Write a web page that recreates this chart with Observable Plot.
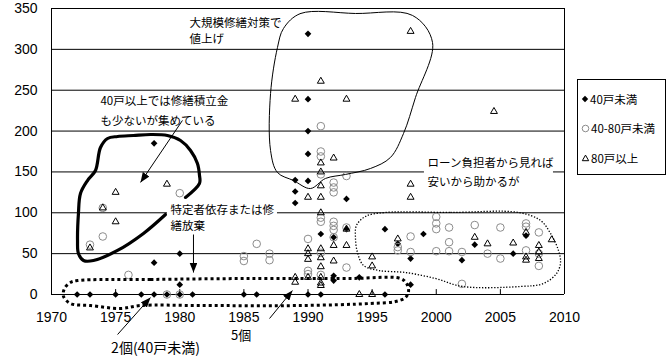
<!DOCTYPE html>
<html><head><meta charset="utf-8">
<script src="https://cdn.jsdelivr.net/npm/d3@7"></script>
<script src="https://cdn.jsdelivr.net/npm/@observablehq/plot@0.6"></script>
<style>
body{margin:0;background:#fff;}
#wrap{position:relative;width:670px;height:360px;background:#fff;}
#legend{position:absolute;left:577px;top:79px;width:87px;height:94px;border:1px solid #000;background:#fff;font-family:"Noto Sans CJK JP",sans-serif;font-size:11.5px;color:#000;}
.item{position:absolute;left:3px;height:16px;display:flex;align-items:center;white-space:nowrap;}
.item svg{margin-right:1px;}
</style></head>
<body><div id="wrap"><div id="legend"></div></div>
<script>
// ---- data: [year, value] ----
const seriesNames = ["40戸未満", "40-80戸未満", "80戸以上"];
const under40 = [
 [1972,0],[1973,0],[1975,0],[1977,0],[1978,0],[1979,0],[1980,0],[1981,0],
 [1985,0],[1986,0],[1990,0],[1991,0],[1996,0],
 [1978,185],[1978,39],[1980,50],[1980,12],
 [1989,140],[1989,126],[1989,112],
 [1990,319],[1990,239],[1990,200],[1990,172],[1990,139],
 [1991,74],[1992,70],[1992,23],[1992,17],[1993,117],[1993,80],[1994,21],
 [1996,80],[1997,62],[1998,44],[1998,12],[1999,74],[2002,42],[2003,61],[2006,50],[2007,72]
];
const from40to80 = [
 [1973,61],[1974,71],[1974,106],[1976,24],[1979,0],[1980,0],[1980,124],
 [1985,47],[1985,41],[1986,62],[1987,50],[1987,42],
 [1990,68],[1990,29],[1990,25],
 [1991,206],[1991,175],[1991,169],[1991,147],[1991,94],[1991,89],[1991,51],[1991,24],
 [1992,137],[1992,131],[1992,125],[1992,89],[1992,84],[1992,79],[1992,70],
 [1993,145],[1993,82],[1993,33],
 [1997,58],[1997,54],[1998,71],[1998,52],
 [2000,95],[2000,87],[2000,80],[2000,53],[2001,82],[2001,64],[2001,53],[2002,52],[2002,13],
 [2003,85],[2004,50],[2005,82],[2005,44],[2007,87],[2007,83],[2007,54],[2008,76],[2008,50],[2008,35]
];
const over80 = [
 [1973,57],[1974,106],[1975,125],[1975,89],[1979,135],
 [1989,239],[1989,21],[1989,15],
 [1990,119],[1990,56],[1990,50],[1990,43],[1990,21],
 [1991,261],[1991,161],[1991,150],[1991,133],[1991,119],[1991,100],[1991,56],[1991,45],[1991,34],[1991,21],[1991,14],[1991,11],
 [1992,167],[1992,60],[1992,41],
 [1993,239],[1993,80],[1993,60],
 [1994,0],[1995,0],[1995,46],[1995,35],
 [1997,68],[1998,322],[1998,135],[1998,119],
 [2003,70],[2004,62],[2004.5,224],[2006,63],[2007,76],[2007,46],[2007,42],[2008,60],[2008,52],[2008,44],[2009,67]
];
const yTicks = [0,50,100,150,200,250,300,350];
const xTicks = [1970,1975,1980,1985,1990,1995,2000,2005,2010];

// ---- annotations (data space) ----
const loop1990 = [[1988.09,325.6],[1989.42,343.9],[1993.7,343.9],[1998.15,341.5],[1999.71,308.4],[1998.38,241.1],[1997.45,197.1],[1996.43,167.7],[1994.87,154.2],[1992.92,146.9],[1991.36,142],[1990.19,129.7],[1988.87,139.5],[1987.62,149.3],[1987.08,176.3],[1987.08,246],[1987.62,302.3]];
const loopLeft = [[1978.89,97.9],[1977.17,74.7],[1975.15,53.9],[1973.27,41.6],[1972.5,41.6],[1972.1,50.2],[1972.03,66.1],[1972.1,99.1],[1972.26,123.6],[1972.81,139.5],[1973.43,151.8],[1973.82,179.9],[1974.37,190.9],[1975.15,193.4],[1976.39,194.6],[1977.72,195.8],[1979.04,194.6],[1980.06,188.5],[1980.84,176.3],[1981.38,160.3],[1981.54,145.7],[1981.54,135.9],[1980.45,118.7]];
const loopBottom = [[1972.03,17.1],[1977.72,18.4],[1985.52,19.6],[1993.31,19.6],[1997.21,19.6],[1997.68,13.5],[1997.84,3.7],[1997.6,-3.7],[1996.82,-8.6],[1994.87,-11],[1989.42,-13.5],[1981.62,-13.5],[1976.94,-13.5],[1975.38,-17.1],[1973.04,-13.5],[1971.48,-11],[1970.94,-2.4],[1971.01,7.3],[1971.48,14.7]];
const loopRight = [[1996.04,100.4],[2001.11,100.4],[2006.41,100.4],[2008.13,90.6],[2008.91,74.7],[2009.53,53.9],[2009.69,39.2],[2009.38,25.7],[2008.36,13.5],[2006.57,9.8],[2002.05,9.8],[1999.94,19.6],[1997.6,26.9],[1995.5,29.4],[1994.33,35.5],[1993.86,51.4],[1993.7,69.8],[1993.78,84.5],[1994.48,95.5]];
const notes = [
 {x:1980.76, y:331.7, t:"大規模修繕対策で"},
 {x:1980.76, y:312.1, t:"値上げ"},
 {x:1973.82, y:236.2, t:"40戸以上では修繕積立金"},
 {x:1973.82, y:211.8, t:"も少ないが集めている"},
 {x:1979.28, y:102.8, t:"特定者依存または修"},
 {x:1979.28, y:83.2, t:"繕放棄"},
 {x:1999.32, y:160.3, t:"ローン負担者から見れば"},
 {x:1999.32, y:137.1, t:"安いから助かるが"}
];
const bigNotes = [
 {x:1978.11, y:-66.1, t:"2個(40戸未満)", a:"middle", s:14},
 {x:1984.0, y:-50.5, t:"5個", a:"start", s:13}
];
const boxes = [
 {x1:1979.04, x2:1987.62, y1:73.4, y2:116.3},
 {x1:1999.08, x2:2009.14, y1:127.3, y2:170}
];
const arrows = [
 {x1:1980.21, y1:213, x2:1976.94, y2:137.1},
 {x1:1981.07, y1:73.4, x2:1981.07, y2:26.9},
 {x1:1975.15, y1:-49, x2:1977.72, y2:-3.7},
 {x1:1987.0, y1:-29.4, x2:1988.79, y2:4.9}
];

function headMarker(color, context) {
  const ns = "http://www.w3.org/2000/svg";
  const doc = (context && context.document) || document;
  const m = doc.createElementNS(ns, "marker");
  m.setAttribute("viewBox", "-10 -4 10 8");
  m.setAttribute("markerWidth", 10);
  m.setAttribute("markerHeight", 8);
  m.setAttribute("refX", 0);
  m.setAttribute("refY", 0);
  m.setAttribute("orient", "auto");
  m.setAttribute("markerUnits", "userSpaceOnUse");
  const p = doc.createElementNS(ns, "path");
  p.setAttribute("d", "M0,0L-10,-4L-10,4Z");
  p.setAttribute("fill", color);
  p.setAttribute("stroke", "none");
  m.appendChild(p);
  return m;
}

const X = d => d[0], Y = d => d[1];
const jp = "'Noto Sans CJK JP', sans-serif";

function build(marker) {
  return Plot.plot({
    width: 670, height: 360,
    marginLeft: 51, marginRight: 106, marginTop: 8, marginBottom: 66,
    style: {fontFamily: "'Liberation Sans', Arial, sans-serif", fontSize: "14px", background: "#fff", color: "#000", overflow: "visible"},
    x: {domain: [1970, 2010], label: null},
    y: {domain: [0, 350], label: null},
    marks: [
      Plot.ruleY(yTicks, {stroke: "#000", strokeWidth: 1}),
      Plot.ruleX([1970, 2010], {y1: 0, y2: 350, stroke: "#000"}),
      Plot.ruleX(xTicks.slice(1, -1), {y1: 0, y2: 6, stroke: "#000"}),
      Plot.axisX({ticks: xTicks, tickSize: 0, tickPadding: 18, tickFormat: d => String(d), fontSize: 14}),
      Plot.axisY({ticks: yTicks, tickSize: 0, tickPadding: 14, tickFormat: d => String(d), fontSize: 14}),
      Plot.dot(under40, {x: X, y: Y, symbol: "diamond2", r: 3, fill: "#000", stroke: "none"}),
      Plot.dot(from40to80, {x: X, y: Y, symbol: "circle", r: 3.8, fill: "none", stroke: "#8c8c8c", strokeWidth: 1}),
      Plot.dot(over80, {x: X, y: Y, symbol: "triangle2", r: 3.3, fill: "none", stroke: "#000", strokeWidth: 1}),
      Plot.line(loop1990, {x: X, y: Y, curve: "catmull-rom-closed", stroke: "#000", strokeWidth: 1}),
      Plot.line(loopLeft, {x: X, y: Y, curve: "catmull-rom", stroke: "#000", strokeWidth: 3.2, strokeLinecap: "round", strokeLinejoin: "round"}),
      Plot.line(loopBottom, {x: X, y: Y, curve: "catmull-rom-closed", stroke: "#000", strokeWidth: 3, strokeDasharray: "3,3", strokeLinecap: "butt"}),
      Plot.line(loopRight, {x: X, y: Y, curve: "catmull-rom-closed", stroke: "#000", strokeWidth: 1.3, strokeDasharray: "1.3,1.7", strokeLinecap: "butt"}),
      Plot.rect(boxes, {x1: "x1", x2: "x2", y1: "y1", y2: "y2", fill: "#fff"}),
      Plot.text(notes, {x: "x", y: "y", text: "t", textAnchor: "start", fontFamily: jp, fontSize: 11.5, fill: "#000"}),
      Plot.text(bigNotes.filter(d => d.s === 14), {x: "x", y: "y", text: "t", textAnchor: "middle", fontFamily: jp, fontSize: 14, fill: "#000"}),
      Plot.text(bigNotes.filter(d => d.s === 13), {x: "x", y: "y", text: "t", textAnchor: "start", fontFamily: jp, fontSize: 13, fill: "#000"}),
      Plot.link(arrows, {x1: "x1", y1: "y1", x2: "x2", y2: "y2", stroke: "#000", strokeWidth: 1, markerEnd: marker})
    ]
  });
}

let chart;
try { chart = build(headMarker); } catch (e) { chart = build("arrow"); }
const wrap = document.getElementById("wrap");
wrap.insertBefore(chart, wrap.firstChild);

// legend
const legend = document.getElementById("legend");
const icons = [
  '<svg width="8" height="8" viewBox="-4 -4 8 8"><path d="M0,-3.2L3.2,0L0,3.2L-3.2,0Z" fill="#000"/></svg>',
  '<svg width="9" height="9" viewBox="-4.5 -4.5 9 9"><circle r="3.3" fill="none" stroke="#8c8c8c" stroke-width="1"/></svg>',
  '<svg width="9" height="9" viewBox="-4.5 -4.5 9 9"><path d="M0,-3.4L3.2,2.2L-3.2,2.2Z" fill="none" stroke="#000" stroke-width="1"/></svg>'
];
const rowTops = [11, 40, 70];
seriesNames.forEach((name, i) => {
  const div = document.createElement("div");
  div.className = "item";
  div.style.top = rowTops[i] + "px";
  div.innerHTML = icons[i] + "<span>" + name + "</span>";
  legend.appendChild(div);
});
</script>
</body></html>
